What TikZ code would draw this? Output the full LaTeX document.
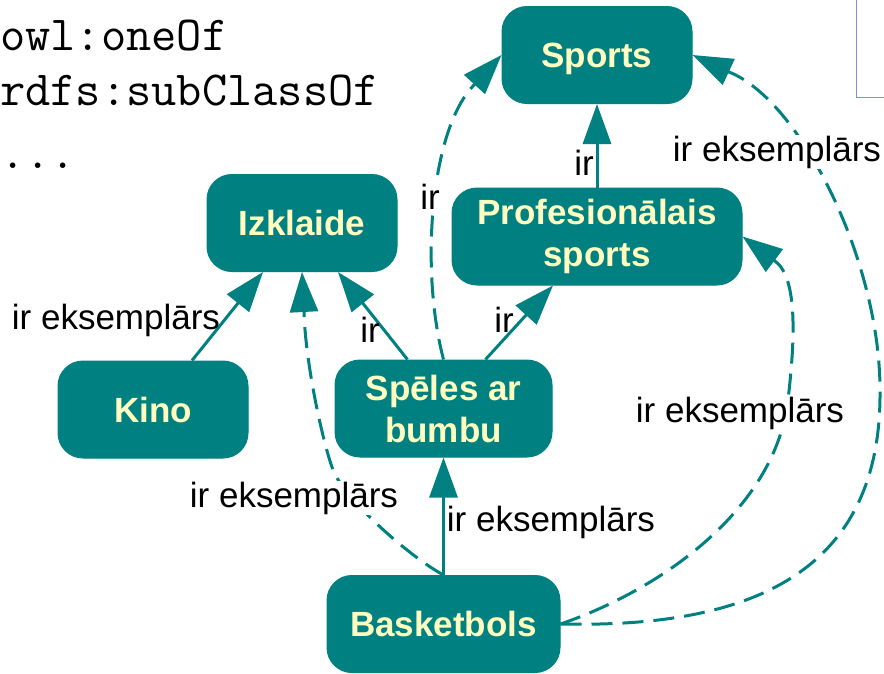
\documentclass[tikz,border=0pt]{standalone}
\usepackage{fontspec}
\setmainfont{Liberation Sans}
\usetikzlibrary{arrows.meta}
\definecolor{tealc}{HTML}{008080}
\definecolor{creamc}{HTML}{FFFFC0}
\definecolor{framec}{HTML}{7896D8}

\begin{document}
\begin{tikzpicture}[x=1pt,y=-1pt,
  concept/.style={draw=tealc, fill=tealc, line width=1pt, rounded corners=25pt,
    text=creamc, font=\fontsize{35}{42}\selectfont\bfseries, align=center,
    minimum height=97pt, inner sep=0pt},
  single/.style={text depth=0pt},
  rel/.style={draw=tealc, line width=3pt, -{Triangle[length=40pt,width=28pt]}},
  inst/.style={rel, dash pattern=on 21pt off 10pt},
  lbl/.style={font=\fontsize{35}{42}\selectfont, inner sep=1pt, text=black},
  masklbl/.style={lbl, fill=white},
  code/.style={font=\ttfamily\fontsize{49}{56}\selectfont, anchor=base west, inner sep=0pt}]
\useasboundingbox (0,0) rectangle (884,673);

% corner of a frame at the top right
\draw[framec, line width=1pt] (856,-2) -- (856,97) -- (886,97);

% vocabulary terms
\node[code] (t1) at (0,50) {owl:oneOf};
\node[code] (t2) at (0,105) {rdfs:subClassOf};
\node[code] (t3) at (0,168) {...};

% concepts
\node[concept, single, minimum width=190pt] (sports) at (597,55) {Sports};
\node[concept, single, minimum width=190pt] (izk) at (302,223) {Izklaide};
\node[concept, minimum width=290pt] (prof) at (597,236.5) {Profesionālais\\sports};
\node[concept, single, minimum width=190pt] (kino) at (153,409.5) {Kino};
\node[concept, minimum width=217pt] (speles) at (443.5,408.5) {Spēles ar\\bumbu};
\node[concept, single, minimum width=233pt] (basket) at (443.5,624) {Basketbols};

% subclass / instance links
\draw[rel] ([xshift=39pt]kino.north) -- ([xshift=-39pt]izk.south);
\draw[rel] ([xshift=-36pt]speles.north) -- ([xshift=36pt]izk.south);
\draw[rel] ([xshift=42pt]speles.north) -- ([xshift=-44pt]prof.south);
\draw[rel] (prof.north) -- (sports.south);
\draw[rel] (basket.north) -- (speles.south);

\draw[inst] (speles.north) .. controls (420,270) and (430,130) .. (474,85) -- (sports.west);
\draw[inst] (basket.north) .. controls (410,557) and (345,500) .. (333,470)
  .. controls (322,440) and (305,360) .. (304,311) -- (izk.south);
\draw[inst] (basket.east) .. controls (660,590) and (775,510) .. (788,400)
  .. controls (795,340) and (798,278) .. (775,261) -- (prof.east);
\draw[inst] (basket.east) .. controls (740,628) and (882,580) .. (880,390)
  .. controls (880,260) and (800,100) .. (729,72) -- (sports.east);

% link labels
\node[lbl] (l1) at (584,163) {ir};
\node[masklbl] (l2) at (430,197) {ir};
\node[lbl] (l3) at (370,330) {ir};
\node[lbl] (l4) at (504,320) {ir};
\node[lbl] (l5) at (116,320) {ir eksemplārs};
\node[masklbl] (l6) at (294,498) {ir eksemplārs};
\node[masklbl] (l7) at (551,522) {ir eksemplārs};
\node[masklbl] (l8) at (740,413) {ir eksemplārs};
\node[masklbl] (l9) at (777,152) {ir eksemplārs};
\end{tikzpicture}
\end{document}
